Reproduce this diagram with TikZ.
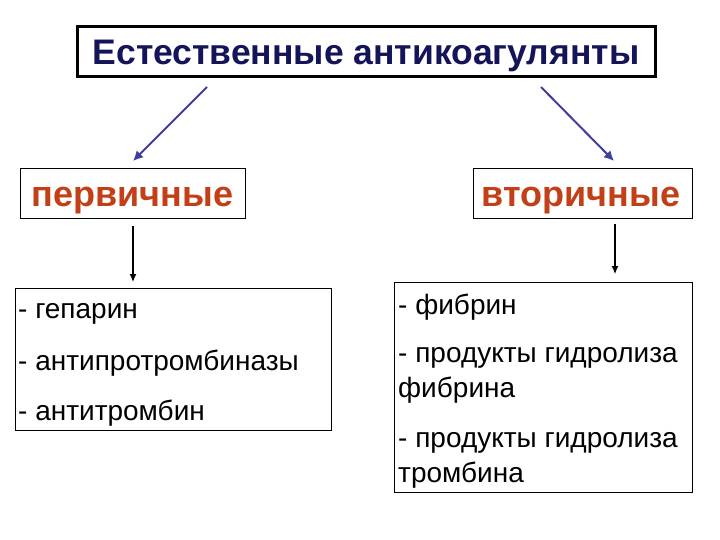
\documentclass[tikz,border=0pt]{standalone}
\usepackage{fontspec}
\setmainfont{Liberation Sans}
\usetikzlibrary{arrows.meta}
\definecolor{navy}{HTML}{14145A}
\definecolor{rust}{HTML}{C23F17}
\definecolor{arrblue}{HTML}{3F3F9F}
\tikzset{
  box/.style={draw=black, line width=0.8pt, fill=white},
  lbl/.style={font=\fontsize{36}{40}\selectfont\bfseries, text=rust},
  item/.style={font=\fontsize{28}{32}\selectfont, anchor=west, inner sep=0pt},
  bluearr/.style={draw=arrblue, line width=2pt, -{Latex[length=10pt,width=10pt]}},
  blackarr/.style={draw=black, line width=1.2pt, -{Latex[length=8pt,width=7pt]}}
}
\begin{document}
\begin{tikzpicture}[x=1pt,y=-1pt]
\useasboundingbox (0,0) rectangle (720,540);
% title
\draw[line width=3pt] (77,27) rectangle (655,77);
\node[font=\fontsize{35.5}{40}\selectfont\bfseries, text=navy] (title) at (366,56) {Естественные антикоагулянты};
% category boxes
\draw[box] (20,168) rectangle (245,218);
\node[lbl] (prim) at (132.5,201) {первичные};
\draw[box] (473,168) rectangle (692,218);
\node[lbl] (sec) at (581,201) {вторичные};
% blue arrows
\coordinate (t1) at (207,87);
\coordinate (t1e) at (133,161);
\coordinate (t2) at (541,87);
\coordinate (t2e) at (614,161);
\draw[bluearr] (t1) -- (t1e);
\draw[bluearr] (t2) -- (t2e);
% black arrows
\coordinate (p1) at (133,226);
\coordinate (p1e) at (133,282);
\coordinate (s1) at (615,224);
\coordinate (s1e) at (615,274);
\draw[blackarr] (p1) -- (p1e);
\draw[blackarr] (s1) -- (s1e);
% left list
\draw[box] (15,288) rectangle (331,430);
\node[item] (l1) at (18,314) {- гепарин};
\node[item] (l2) at (18,363) {- антипротромбиназы};
\node[item] (l3) at (18,413) {- антитромбин};
% right list
\draw[box] (394,282) rectangle (692,492);
\node[item] (r1) at (398,307) {- фибрин};
\node[item] (r2) at (398,358) {- продукты гидролиза};
\node[item] (r3) at (398,390) {фибрина};
\node[item] (r4) at (398,443) {- продукты гидролиза};
\node[item] (r5) at (398,475) {тромбина};
\end{tikzpicture}
\end{document}
